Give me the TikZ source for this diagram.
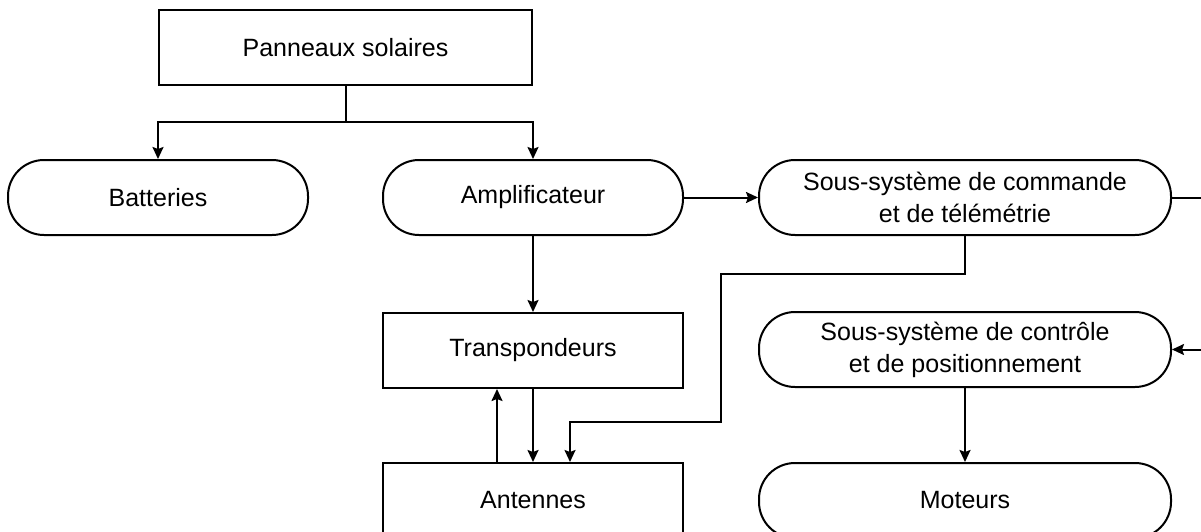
\documentclass[tikz,border=0pt]{standalone}
\usepackage{fontspec}
\setmainfont{Liberation Sans}
\usetikzlibrary{positioning,arrows.meta}

\begin{document}
\begin{tikzpicture}[font=\fontsize{25}{32}\selectfont, line width=2pt,
  box/.style={draw, align=center, minimum height=75pt, minimum width=300pt, inner sep=0pt},
  pill/.style={box, rounded corners=36pt},
  widebox/.style={minimum width=412pt},
  a/.style={-{Stealth[length=12pt,width=11pt,inset=2pt]}}]
\useasboundingbox (0,0) rectangle (1201pt,-532pt);
\node[box, minimum width=373pt] (pan) at (345.5pt,-47.5pt) {Panneaux solaires};
\node[pill, below=73pt of pan.south west, anchor=north] (bat) {Batteries};
\node[pill, below=73pt of pan.south east, anchor=north] (amp) {Amplificateur};
\node[pill, widebox, right=74pt of amp] (cmd) {Sous-système de commande\\et de télémétrie};
\node[box, below=76pt of amp] (tra) {Transpondeurs};
\node[box, below=73pt of tra] (ant) {Antennes};
\node[pill, widebox, below=75pt of cmd] (ctl) {Sous-système de contrôle\\et de positionnement};
\node[pill, widebox, below=74pt of ctl] (mot) {Moteurs};
\coordinate[below=36pt of pan] (fork);
\draw (pan) -- (fork);
\draw[a] (fork) -| (bat); \draw[a] (fork) -| (amp);
\draw[a] (amp) -- (cmd); \draw[a] (amp) -- (tra); \draw[a] (tra) -- (ant);
\draw[a] ([xshift=-36pt]ant.north) -- ([xshift=-36pt]tra.south);
\draw[a] (cmd.south) -- ++(0,-38pt) -| ++(-244pt,-148pt) -| ([xshift=37pt]ant.north);
\draw[a] (cmd.east) -- ++(32pt,0) |- (ctl.east);
\draw[a] (ctl) -- (mot);
\end{tikzpicture}
\end{document}
